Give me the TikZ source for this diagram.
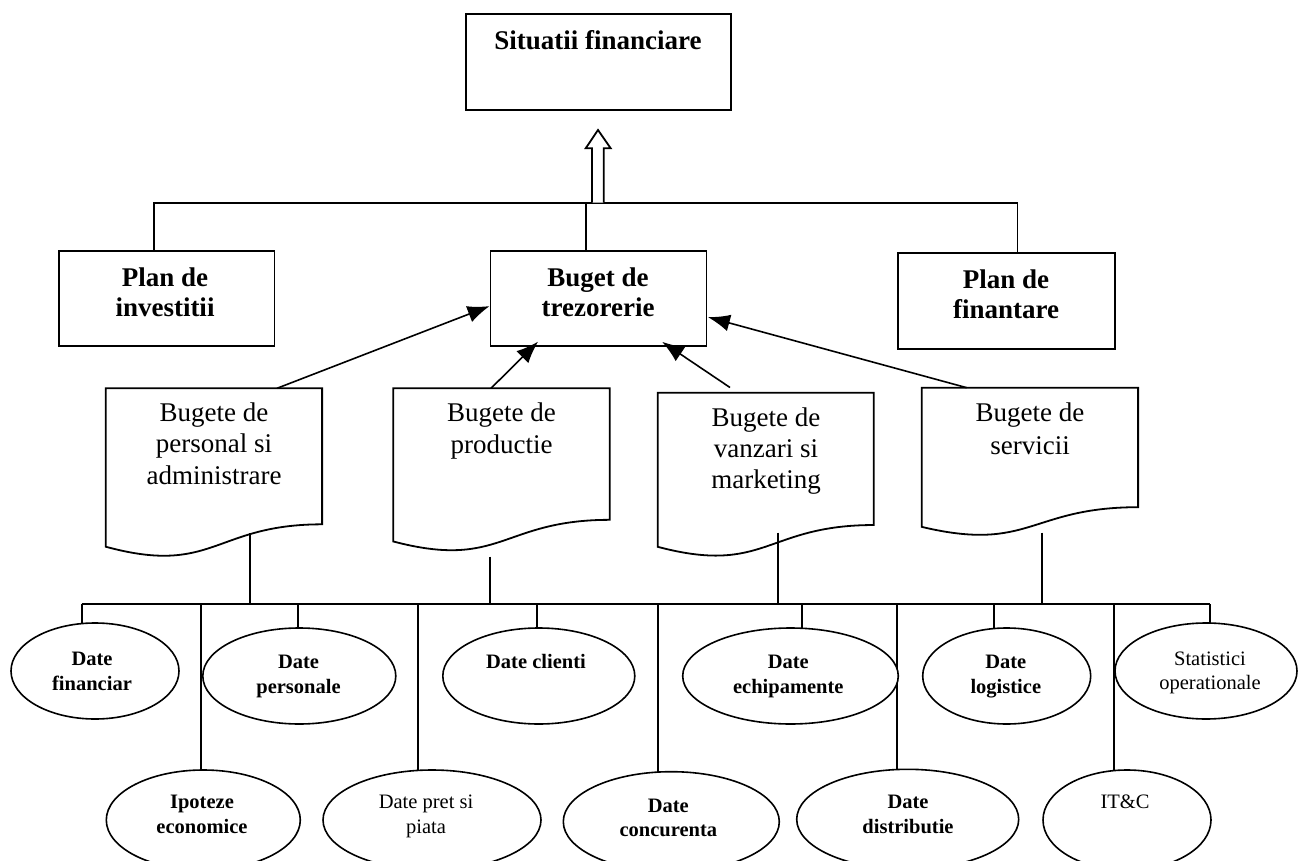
\documentclass[tikz,border=0pt]{standalone}
\usepackage{fontspec}
\setmainfont{Liberation Serif}
\usetikzlibrary{shapes.geometric,arrows.meta,backgrounds,calc}
\tikzset{
  ln/.style={line width=1.8pt},
  boxnode/.style={draw, line width=1.8pt, inner sep=0pt, fill=white},
  ell/.style={ellipse, draw, line width=1.6pt, inner sep=0pt, fill=white},
  bigb/.style={font=\fontsize{27}{30}\selectfont\bfseries, anchor=base, inner sep=0pt},
  bigr/.style={font=\fontsize{27}{30}\selectfont, anchor=base, inner sep=0pt},
  smb/.style={font=\fontsize{20.5}{24}\selectfont\bfseries, anchor=base, inner sep=0pt},
  smr/.style={font=\fontsize{20.5}{24}\selectfont, anchor=base, inner sep=0pt},
  arr/.style={line width=1.6pt, -{Latex[length=22pt,width=17pt]}},
}
\newcommand\mydoc[5]{%
  \node[minimum width=#4pt, minimum height=#5pt, inner sep=0pt, anchor=north west] (#1) at (#2,#3) {};
  \draw[ln, fill=white] (#1.north west) -- (#1.north east) -- ($(#1.north east)+(0,0.802*#5)$)
    .. controls ($(#1.north)+(0,0.802*#5)$) and ($(#1.north)+(0,1.1075*#5)$) .. ($(#1.north west)+(0,0.934*#5)$) -- cycle;}
\begin{document}
\begin{tikzpicture}[x=1pt,y=-1pt]
\useasboundingbox (0,0) rectangle (1299,861);
\clip (0,0) rectangle (1299,861);

% top boxes
\node[boxnode, minimum width=265pt, minimum height=96pt] (sf) at (598.5,62) {};
\node[bigb] (sft) at (598,50) {Situatii financiare};

\node[boxnode, minimum width=215.5pt, minimum height=95.3pt] (inv) at (166.75,298.35) {};
\node[bigb] (inv1) at (165,286.7) {Plan de};
\node[bigb] (inv2) at (165,316.7) {investitii};

\node[boxnode, minimum width=215.9pt, minimum height=95.3pt] (bug) at (598.45,298.35) {};
\node[bigb] (bug1) at (598,286.7) {Buget de};
\node[bigb] (bug2) at (598,316.7) {trezorerie};

\node[boxnode, minimum width=217pt, minimum height=96pt] (fin) at (1006.5,301) {};
\node[bigb] (fin1) at (1006,288.3) {Plan de};
\node[bigb] (fin2) at (1006,318.3) {finantare};

% top bus
\coordinate (tbL) at (154,202.7);
\coordinate (tbM) at (585.8,202.7);
\coordinate (tbR) at (1017.5,202.7);
\draw[ln] (inv.north -| tbL) -- (tbL) -- (tbR) -- (fin.north -| tbR);
\draw[ln] (tbM) -- (bug.north -| tbM);

% hollow arrow
\draw[ln, fill=white, line join=miter] (592,202.7) -- (592,148.3) -- (585.7,148.3) -- (598,130)
  -- (610.7,148.3) -- (603.7,148.3) -- (603.7,202.7);

% document shapes
\mydoc{d1}{105.7}{388.3}{216}{169.6}
\mydoc{d2}{393.3}{388.3}{216}{164}
\mydoc{d3}{657.7}{392.7}{215.6}{165}
\mydoc{d4}{921.7}{387.7}{216}{149}

\node[bigr] (d1a) at (214,421.7) {Bugete de};
\node[bigr] (d1b) at (214,452.7) {personal si};
\node[bigr] (d1c) at (214,484) {administrare};
\node[bigr] (d2a) at (501.5,421.7) {Bugete de};
\node[bigr] (d2b) at (501.5,453.3) {productie};
\node[bigr] (d3a) at (766,426.7) {Bugete de};
\node[bigr] (d3b) at (766,457.3) {vanzari si};
\node[bigr] (d3c) at (766,488.3) {marketing};
\node[bigr] (d4a) at (1030,421.7) {Bugete de};
\node[bigr] (d4b) at (1030,454) {servicii};

% arrows to Buget de trezorerie
\draw[arr] ($(d1.north west)+(171.3,0)$) -- ($(bug.north west)+(0,56.3)$);
\draw[arr] ($(d2.north west)+(97.7,0)$) -- ($(bug.north west)+(48.5,91.8)$);
\draw[arr] ($(d3.north west)+(72.3,-5.2)$) -- ($(bug.north west)+(172.5,92)$);
\draw[arr] ($(d4.north west)+(45,0)$) -- ($(bug.north east)+(0.6,67.3)$);

% bottom bus
\coordinate (bbL) at (81.7,604);
\coordinate (bbR) at (1210,604);
\draw[ln] (bbL) -- (bbR);
\coordinate (c1) at (250,533);
\coordinate (c2) at (490,556.7);
\coordinate (c3) at (777.7,532.7);
\coordinate (c4) at (1041.7,532.7);
\draw[ln] (c1) -- (c1 |- bbL);
\draw[ln] (c2) -- (c2 |- bbL);
\draw[ln] (c3) -- (c3 |- bbL);
\draw[ln] (c4) -- (c4 |- bbL);

% ellipses
\node[ell, minimum width=168pt, minimum height=96pt] (efin) at (95,671) {};
\node[ell, minimum width=193pt, minimum height=96pt] (epers) at (299.3,676) {};
\node[ell, minimum width=192pt, minimum height=96pt] (ecli) at (538.8,676) {};
\node[ell, minimum width=215.6pt, minimum height=96pt] (eech) at (790.5,676) {};
\node[ell, minimum width=168pt, minimum height=96pt] (elog) at (1006.7,676) {};
\node[ell, minimum width=182pt, minimum height=96pt] (estat) at (1206,671) {};

\node[ell, minimum width=194pt, minimum height=100pt] (eip) at (203.3,820) {};
\node[ell, minimum width=218pt, minimum height=100pt] (epret) at (432,820) {};
\node[ell, minimum width=216pt, minimum height=100pt] (econc) at (671.3,821.7) {};
\node[ell, minimum width=222pt, minimum height=100pt] (edist) at (907.7,819.3) {};
\node[ell, minimum width=168pt, minimum height=100pt] (eitc) at (1127,820) {};

\node[smb] (t1a) at (92,665) {Date};
\node[smb] (t1b) at (92,690) {financiar};
\node[smb] (t2a) at (298.5,668.3) {Date};
\node[smb] (t2b) at (298.5,693.3) {personale};
\node[smb] (t3a) at (536,668.3) {Date clienti};
\node[smb] (t4a) at (788.3,668.3) {Date};
\node[smb] (t4b) at (788.3,693.3) {echipamente};
\node[smb] (t5a) at (1005.8,668.3) {Date};
\node[smb] (t5b) at (1005.8,693.3) {logistice};
\node[smr] (t6a) at (1210,665) {Statistici};
\node[smr] (t6b) at (1210,689.3) {operationale};

\node[smb] (t7a) at (202,808.3) {Ipoteze};
\node[smb] (t7b) at (202,833.3) {economice};
\node[smr] (t8a) at (426,808.3) {Date pret si};
\node[smr] (t8b) at (426,833.3) {piata};
\node[smb] (t9a) at (668.3,812.7) {Date};
\node[smb] (t9b) at (668.3,836.7) {concurenta};
\node[smb] (t10a) at (908,808.3) {Date};
\node[smb] (t10b) at (908,833.3) {distributie};
\node[smr] (t11a) at (1125,808.3) {IT\&C};

% drops from bus to ellipses (behind the ellipses)
\begin{scope}[on background layer]
\fill[white] (0,0) rectangle (1299,861);
\coordinate (j1) at (81.7,604);
\coordinate (j2) at (201,604);
\coordinate (j3) at (297.7,604);
\coordinate (j4) at (417.7,604);
\coordinate (j5) at (537.3,604);
\coordinate (j6) at (657.7,604);
\coordinate (j7) at (801.7,604);
\coordinate (j8) at (897.3,604);
\coordinate (j9) at (994,604);
\coordinate (j10) at (1114,604);
\coordinate (j11) at (1210,604);
\draw[ln] (j1) -- (j1 |- efin.center);
\draw[ln] (j2) -- (j2 |- eip.center);
\draw[ln] (j3) -- (j3 |- epers.center);
\draw[ln] (j4) -- (j4 |- epret.center);
\draw[ln] (j5) -- (j5 |- ecli.center);
\draw[ln] (j6) -- (j6 |- econc.center);
\draw[ln] (j7) -- (j7 |- eech.center);
\draw[ln] (j8) -- (j8 |- edist.center);
\draw[ln] (j9) -- (j9 |- elog.center);
\draw[ln] (j10) -- (j10 |- eitc.center);
\draw[ln] (j11) -- (j11 |- estat.center);
\end{scope}
\end{tikzpicture}
\end{document}
